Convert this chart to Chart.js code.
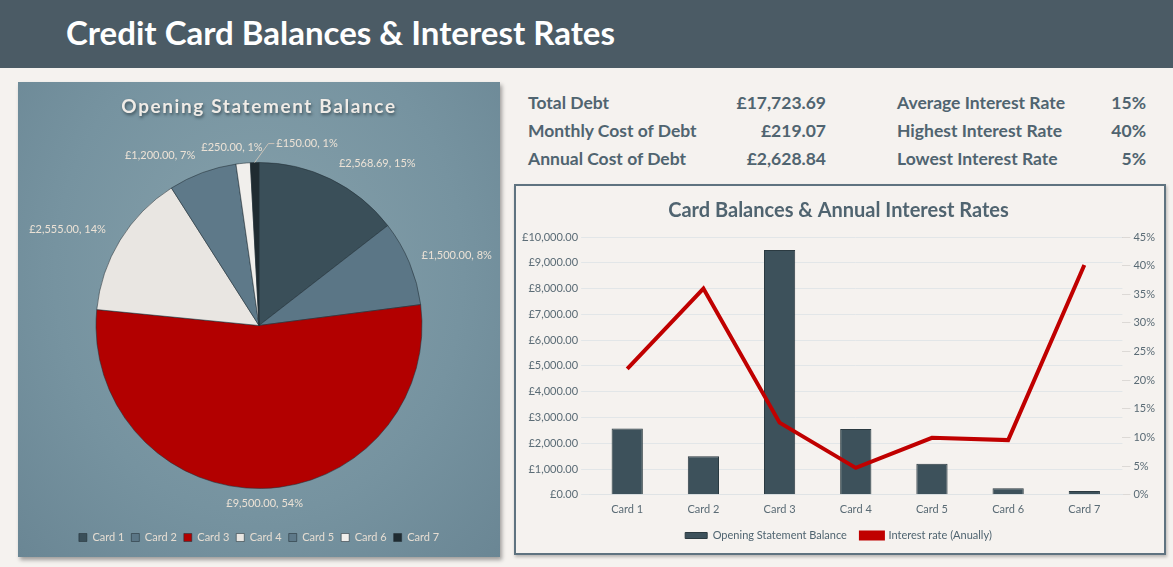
<!DOCTYPE html>
<html>
<head>
<meta charset="utf-8">
<script src="https://cdn.jsdelivr.net/npm/chart.js@4"></script>
<style>
  body { margin: 0; width: 1173px; height: 567px; background: #f5f2ef; font-family: Lato, sans-serif; overflow: hidden; position: relative; }
  #header { position: absolute; left: 0; top: 0; width: 1173px; height: 68px; background: #4b5b65; }
  #header h1 { margin: 0; position: absolute; left: 66px; top: 12px; font-size: 33px; color: #ffffff; font-weight: 700; }
  #piePanel { position: absolute; left: 18px; top: 82px; width: 482px; height: 475px;
    background: radial-gradient(ellipse at 50% 40%, #86a1ab 0%, #7693a0 60%, #6a8694 100%);
    box-shadow: 2px 3px 4px rgba(0,0,0,0.35); }
  #pieTitle { position: absolute; left: 0; top: 12px; width: 482px; text-align: center; font-size: 19px; font-weight: 700;
    letter-spacing: 1.6px; color: #f0ece7; text-shadow: 1px 2px 3px rgba(40,55,62,0.7); }
  #stats { position: absolute; left: 528px; top: 92px; width: 620px; font-size: 17.5px; font-weight: 700; color: #506470; }
  .lab { position: absolute; white-space: nowrap; }
  .val { position: absolute; text-align: right; white-space: nowrap; }
  #barPanel { position: absolute; left: 514px; top: 184px; width: 648px; height: 367px; border: 2px solid #5f7380;
    background: #f5f2ef; box-shadow: 1px 2px 3px rgba(0,0,0,0.25); }
</style>
</head>
<body>
<div id="header"><h1>Credit Card Balances &amp; Interest Rates</h1></div>
<div id="piePanel">
  <canvas id="pie" width="482" height="475"></canvas>
  <div id="pieTitle">Opening Statement Balance</div>
</div>
<div id="stats"></div>
<div id="barPanel"><canvas id="bars" width="648" height="367"></canvas></div>
<script>
const cards = ['Card 1', 'Card 2', 'Card 3', 'Card 4', 'Card 5', 'Card 6', 'Card 7'];
const balances = [2568.69, 1500, 9500, 2555, 1200, 250, 150];
const rates = [0.22, 0.36, 0.126, 0.047, 0.0995, 0.0955, 0.401];
const sliceColors = ['#3a4f59', '#5b7686', '#b20000', '#e9e6e2', '#5e7989', '#f1efec', '#1f2b31'];
const statsLeft = [['Total Debt', '£17,723.69'], ['Monthly Cost of Debt', '£219.07'], ['Annual Cost of Debt', '£2,628.84']];
const statsRight = [['Average Interest Rate', '15%'], ['Highest Interest Rate', '40%'], ['Lowest Interest Rate', '5%']];
const leftTicksMax = 10000;
const rightTicksMax = 0.45;

const FONT = 'Lato';

function money(v) {
  return '£' + v.toLocaleString('en-GB', { minimumFractionDigits: 2, maximumFractionDigits: 2 });
}

// stats block
const stats = document.getElementById('stats');
statsLeft.forEach((s, i) => {
  stats.innerHTML += '<div class="lab" style="left:0;top:' + (i * 28) + 'px">' + s[0] + '</div>' +
    '<div class="val" style="left:140px;width:158px;top:' + (i * 28) + 'px">' + s[1] + '</div>';
});
statsRight.forEach((s, i) => {
  stats.innerHTML += '<div class="lab" style="left:369px;top:' + (i * 28) + 'px">' + s[0] + '</div>' +
    '<div class="val" style="left:560px;width:58px;top:' + (i * 28) + 'px">' + s[1] + '</div>';
});

// excel style rounding so the percents add up to 100
function percents(vals) {
  const total = vals.reduce((a, b) => a + b, 0);
  const raw = vals.map(v => v / total * 100);
  const out = raw.map(Math.floor);
  let left = 100 - out.reduce((a, b) => a + b, 0);
  const order = raw.map((r, i) => [r - Math.floor(r), i]).sort((a, b) => b[0] - a[0]);
  for (let k = 0; k < left; k++) out[order[k][1]]++;
  return out;
}
const pcts = percents(balances);

const pieLabels = {
  id: 'pieLabels',
  afterDatasetsDraw(chart, args, opts) {
    const ctx = chart.ctx;
    const meta = chart.getDatasetMeta(0);
    ctx.save();
    ctx.font = '11px ' + FONT;
    ctx.fillStyle = opts.color;
    ctx.strokeStyle = opts.lineColor;
    ctx.lineWidth = 1;
    ctx.textBaseline = 'middle';
    meta.data.forEach((arc, i) => {
      const p = arc.getProps(['x', 'y', 'startAngle', 'endAngle', 'outerRadius'], true);
      const mid = (p.startAngle + p.endAngle) / 2;
      const r = p.outerRadius + opts.pad;
      const c = Math.cos(mid);
      let x = p.x + c * r;
      let y = p.y + Math.sin(mid) * r;
      const n = opts.nudge[i] || [0, 0];
      x += n[0]; y += n[1];
      let align = Math.abs(c) < 0.15 ? 'center' : (c > 0 ? 'left' : 'right');
      if (opts.leader === i) {
        align = 'left';
        const ex = p.x + c * p.outerRadius, ey = p.y + Math.sin(mid) * p.outerRadius;
        ctx.beginPath();
        ctx.moveTo(ex, ey);
        ctx.lineTo(x - 8, y);
        ctx.lineTo(x - 2, y);
        ctx.stroke();
      }
      ctx.textAlign = align;
      ctx.fillText(money(balances[i]) + ', ' + pcts[i] + '%', x, y);
    });
    ctx.restore();
  }
};

new Chart(document.getElementById('pie'), {
  type: 'pie',
  data: {
    labels: cards,
    datasets: [{
      data: balances,
      backgroundColor: sliceColors,
      borderColor: 'rgba(35,48,55,0.55)',
      borderWidth: 1,
      radius: 163
    }]
  },
  options: {
    responsive: false,
    animation: false,
    layout: { padding: { top: 44, bottom: 4, left: 0, right: 0 } },
    plugins: {
      legend: {
        position: 'bottom',
        labels: { boxWidth: 8, boxHeight: 8, padding: 7, color: '#e6ddd2', font: { family: FONT, size: 11 } }
      },
      tooltip: { enabled: false },
      pieLabels: {
        color: '#ece2d6', lineColor: '#c9c2b8', pad: 12, leader: 6,
        nudge: { 0: [3, -5], 1: [1, -3], 2: [3, 3], 3: [-4, -4], 4: [-3, -6], 5: [-10, -4], 6: [22, -7] }
      }
    }
  },
  plugins: [pieLabels]
});

new Chart(document.getElementById('bars'), {
  type: 'bar',
  data: {
    labels: cards,
    datasets: [
      {
        type: 'line',
        label: 'Interest rate (Anually)',
        data: rates,
        borderColor: '#c00000',
        backgroundColor: '#c00000',
        borderWidth: 4,
        pointRadius: 0,
        yAxisID: 'y1',
        order: 0
      },
      {
        label: 'Opening Statement Balance',
        data: balances,
        backgroundColor: '#3d515b',
        borderColor: '#2b3a41',
        borderWidth: 1,
        barPercentage: 0.41,
        categoryPercentage: 1,
        yAxisID: 'y',
        order: 1
      }
    ]
  },
  options: {
    responsive: false,
    animation: false,
    layout: { padding: { left: 3, right: 6, top: 0, bottom: 2 } },
    plugins: {
      title: {
        display: true,
        text: 'Card Balances & Annual Interest Rates',
        color: '#506470',
        font: { family: FONT, size: 20, weight: 'bold' },
        padding: { top: 13, bottom: 14 }
      },
      legend: {
        position: 'bottom',
        reverse: true,
        labels: { boxWidth: 22, boxHeight: 6, padding: 14, color: '#4f6470', font: { family: FONT, size: 11 } }
      },
      tooltip: { enabled: false }
    },
    scales: {
      x: {
        grid: { display: false },
        border: { color: '#dfe3e5' },
        ticks: { padding: 0, color: '#5a6b75', font: { family: FONT, size: 11 } }
      },
      y: {
        position: 'left',
        min: 0,
        max: leftTicksMax,
        ticks: { stepSize: 1000, color: '#5a6b75', font: { family: FONT, size: 11 }, callback: v => money(v) },
        grid: { color: '#e2e6e8' },
        border: { display: false }
      },
      y1: {
        position: 'right',
        min: 0,
        max: rightTicksMax,
        ticks: { stepSize: 0.05, color: '#5a6b75', font: { family: FONT, size: 11 }, callback: v => Math.round(v * 100) + '%' },
        grid: { drawOnChartArea: false },
        border: { display: false }
      }
    }
  }
});
</script>
</body>
</html>
